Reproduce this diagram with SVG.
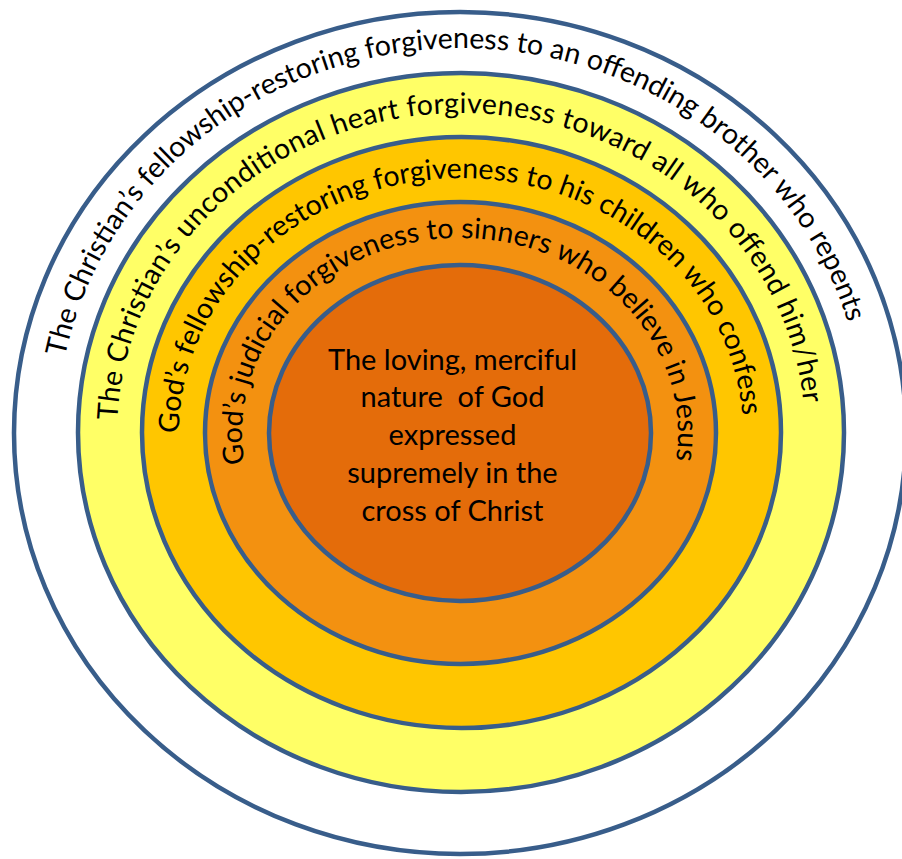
<svg xmlns="http://www.w3.org/2000/svg" width="902" height="859" viewBox="0 0 902 859">
<style>
.ring{stroke:#385D8A;stroke-width:4.5}
.lbl{font-family:Lato,"Liberation Sans",sans-serif;font-size:28.5px;fill:#000}
.ctr{font-family:Lato,"Liberation Sans",sans-serif;font-size:29px;fill:#000;text-anchor:middle}
</style>
<defs>
<path id="p1" d="M 65.0 356.9 A 404 385 0 0 1 847.9 322.4"/>
<path id="p2" d="M 117.3 420.2 A 344 320 0 0 1 803.5 402.9"/>
<path id="p3" d="M 179 433 A 282 255 0 0 1 742.3 415.2"/>
<path id="p4" d="M 244.6 463.2 A 218 195 0 1 1 675.9 459.8"/>
</defs>
<rect width="902" height="859" fill="#fff"/>
<g id="ring1">
<ellipse class="ring" cx="460" cy="433" rx="446" ry="421" fill="#fff"/>
<text class="lbl"><textPath href="#p1" startOffset="50%" text-anchor="middle" textLength="1050" lengthAdjust="spacing">The Christian’s fellowship-restoring forgiveness to an offending brother who repents</textPath></text>
</g>
<g id="ring2">
<ellipse class="ring" cx="461" cy="432.5" rx="383" ry="359.5" fill="#FFFF66"/>
<text class="lbl"><textPath href="#p2" startOffset="50%" text-anchor="middle" textLength="1000" lengthAdjust="spacing">The Christian’s unconditional heart forgiveness toward all who offend him/her</textPath></text>
</g>
<g id="ring3">
<ellipse class="ring" cx="461.5" cy="432.5" rx="319.5" ry="295.5" fill="#FFC600"/>
<text class="lbl"><textPath href="#p3" startOffset="50%" text-anchor="middle" textLength="826" lengthAdjust="spacing">God’s fellowship-restoring forgiveness to his children who confess</textPath></text>
</g>
<g id="ring4">
<ellipse class="ring" cx="460.5" cy="433" rx="255.5" ry="231" fill="#F39110"/>
<text class="lbl"><textPath href="#p4" startOffset="50%" text-anchor="middle" textLength="707" lengthAdjust="spacing">God’s judicial forgiveness to sinners who believe in Jesus</textPath></text>
</g>
<g id="core">
<ellipse class="ring" cx="460" cy="433" rx="191" ry="168" fill="#E46C0A"/>
<text class="ctr" x="452.5" y="369.5">The loving, merciful</text>
<text class="ctr" x="452.5" y="407" xml:space="preserve">nature  of God</text>
<text class="ctr" x="452.5" y="444.5">expressed</text>
<text class="ctr" x="452.5" y="483">supremely in the</text>
<text class="ctr" x="452.5" y="521">cross of Christ</text>
</g>
</svg>
